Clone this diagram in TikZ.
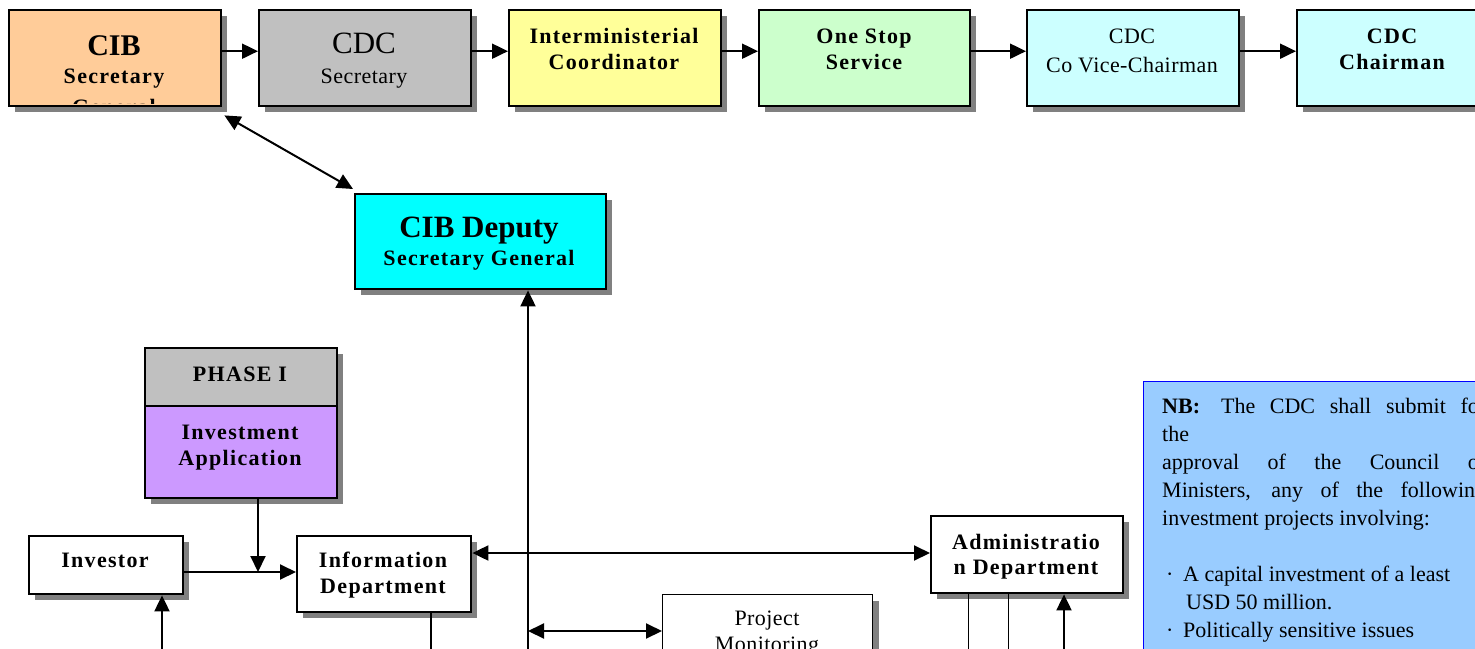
\documentclass[tikz,border=0pt]{standalone}
\usepackage{fontspec}
\setmainfont{Liberation Serif}
\usetikzlibrary{arrows.meta,shadows}
\definecolor{peach}{HTML}{FFCC99}
\definecolor{lgray}{HTML}{C0C0C0}
\definecolor{lyellow}{HTML}{FFFF99}
\definecolor{lgreen}{HTML}{CCFFCC}
\definecolor{lcyan}{HTML}{CCFFFF}
\definecolor{cyanb}{HTML}{00FFFF}
\definecolor{lpurple}{HTML}{CC99FF}
\definecolor{nbblue}{HTML}{99CCFF}
\definecolor{shadowgray}{HTML}{808080}
\tikzset{
  box/.style={draw=black, line width=2.4pt, rectangle, inner sep=0pt, anchor=north west,
    drop shadow={shadow xshift=6pt, shadow yshift=-6pt, fill=shadowgray, opacity=1}},
  conn/.style={line width=2pt, -{Triangle[length=16pt,width=15pt]}},
  bi/.style={line width=2pt, {Triangle[length=16pt,width=15pt]}-{Triangle[length=16pt,width=15pt]}},
  thinline/.style={line width=1pt},
  bt/.style={font={\fontsize{22}{26}\selectfont\bfseries\addfontfeature{LetterSpace=6}}, anchor=base, inner sep=0pt},
  rt/.style={font={\fontsize{22}{26}\selectfont\addfontfeature{LetterSpace=2}}, anchor=base, inner sep=0pt},
  nbt/.style={font={\fontsize{22}{26}\selectfont}, anchor=base west, inner sep=0pt},
}
\begin{document}
\begin{tikzpicture}[x=1pt,y=-1pt]
\path[use as bounding box] (0,0) rectangle (1475,648);
\clip (0,0) rectangle (1475,648);
\fill[white] (0,0) rectangle (1475,648);

% top row
\node[box, fill=peach, minimum width=212pt, minimum height=96pt] (cib) at (8,9) {};
\node[box, fill=lgray, minimum width=212pt, minimum height=96pt] (cdcs) at (258,9) {};
\node[box, fill=lyellow, minimum width=212pt, minimum height=96pt] (inter) at (508,9) {};
\node[box, fill=lgreen, minimum width=211pt, minimum height=96pt] (one) at (758,9) {};
\node[box, fill=lcyan, minimum width=212pt, minimum height=96pt] (vice) at (1026,9) {};
\node[box, fill=lcyan, minimum width=240pt, minimum height=96pt] (chair) at (1296,9) {};

\begin{scope}
\clip (10,11) rectangle (218,103);
\node[anchor=base, inner sep=0pt, font={\fontsize{30}{34}\selectfont\bfseries}] (cibt1) at (114,55) {CIB};
\node[bt] (cibt2) at (114,83) {Secretary};
\node[bt] (cibt3) at (114,114) {General};
\end{scope}

\node[anchor=base, inner sep=0pt, font={\fontsize{31}{34}\selectfont}] (cdct1) at (364,53) {CDC};
\node[rt] (cdct2) at (364,83) {Secretary};
\node[bt] (intt1) at (614,43) {Interministerial};
\node[bt] (intt2) at (614,69) {Coordinator};
\node[bt] (onet1) at (864,43) {One Stop};
\node[bt] (onet2) at (864,69) {Service};
\node[rt] (vicet1) at (1132,43) {CDC};
\node[rt] (vicet2) at (1132,72) {Co Vice-Chairman};
\node[bt] (chairt1) at (1392,43) {CDC};
\node[bt] (chairt2) at (1392,69) {Chairman};

\draw[conn] ([yshift=7pt]cib.east) -- ([yshift=7pt]cdcs.west);
\draw[conn] ([yshift=7pt]cdcs.east) -- ([yshift=7pt]inter.west);
\draw[conn] ([yshift=7pt]inter.east) -- ([yshift=7pt]one.west);
\draw[conn] ([yshift=7pt]one.east) -- ([yshift=7pt]vice.west);
\draw[conn] ([yshift=7pt]vice.east) -- ([yshift=7pt]chair.west);

% deputy
\node[box, fill=cyanb, minimum width=251pt, minimum height=95pt] (dep) at (354,193) {};
\node[anchor=base, inner sep=0pt, font={\fontsize{31}{34}\selectfont\bfseries}] (dept1) at (479,237) {CIB Deputy};
\node[bt] (dept2) at (479,265) {Secretary General};
\draw[bi] ([shift={(2pt,-8pt)}]cib.south east) -- ([shift={(-1pt,4pt)}]dep.north west);

% phase I
\node[box, fill=lgray, minimum width=192pt, minimum height=58pt] (phase) at (144,347) {};
\node[box, fill=lpurple, minimum width=192pt, minimum height=92pt] (inv) at (144,405) {};
\node[bt] (phaset) at (240,381) {PHASE I};
\node[bt] (invt1) at (240,439) {Investment};
\node[bt] (invt2) at (240,465) {Application};

% investor, information
\node[box, fill=white, minimum width=154pt, minimum height=58pt] (investor) at (28,535) {};
\node[bt] (investort) at (105,567) {Investor};
\node[box, fill=white, minimum width=174pt, minimum height=76pt] (info) at (296,535) {};
\node[bt] (infot1) at (383,567) {Information};
\node[bt] (infot2) at (383,593) {Department};

% admin
\node[box, fill=white, minimum width=192pt, minimum height=77pt] (admin) at (930,515) {};
\node[bt] (admint1) at (1026,549) {Administratio};
\node[bt] (admint2) at (1026,574) {n Department};

% project monitoring
\node[box, fill=white, minimum width=210pt, minimum height=80pt, line width=1.2pt] (pm) at (662,594) {};
\node[rt] (pmt1) at (767,625) {Project};
\node[rt] (pmt2) at (767,651) {Monitoring};

% NB box
\node[draw=blue, line width=1pt, fill=nbblue, minimum width=400pt, minimum height=300pt, anchor=north west, inner sep=0pt] (nb) at (1143,381) {};
\node[nbt] (nb1) at (1162,413) {\makebox[324pt][s]{\textbf{NB:}\hspace{11pt plus 3pt}The CDC shall submit for}};
\node[nbt] (nb2) at (1162,441) {the};
\node[nbt] (nb3) at (1162,469) {\makebox[324pt][s]{approval of the Council of}};
\node[nbt] (nb4) at (1162,497) {\makebox[324pt][s]{Ministers, any of the following}};
\node[nbt] (nb5) at (1162,525) {investment projects involving:};
\node[nbt] (nb6) at (1166,581) {\textperiodcentered};
\node[nbt] (nb7) at (1183,581) {A capital investment of a least};
\node[nbt] (nb8) at (1186,609) {USD 50 million.};
\node[nbt] (nb9) at (1166,637) {\textperiodcentered};
\node[nbt] (nb10) at (1183,637) {Politically sensitive issues};

% connectors
\coordinate (vbot) at (528,670);
\draw[conn] (vbot) -- (vbot |- dep.south);
\coordinate (j) at (258,572);
\draw[conn] (j |- inv.south) -- (j);
\draw[conn] (investor.east |- j) -- (info.west |- j);
\coordinate (ib) at (162,670);
\draw[conn] (ib) -- (ib |- investor.south);
\coordinate (infob) at (431,670);
\draw[line width=2pt] (infob |- info.south) -- (infob);
\coordinate (ia) at (0,553);
\draw[bi] (info.east |- ia) -- (admin.west |- ia);
\coordinate (pmy) at (0,631);
\draw[bi] (vbot |- pmy) -- (pm.west |- pmy);
\coordinate (a1) at (968,670);
\coordinate (a2) at (1008,670);
\coordinate (a3) at (1064,670);
\draw[thinline] (a1 |- admin.south) -- (a1);
\draw[thinline] (a2 |- admin.south) -- (a2);
\draw[conn] (a3) -- (a3 |- admin.south);
\end{tikzpicture}
\end{document}
